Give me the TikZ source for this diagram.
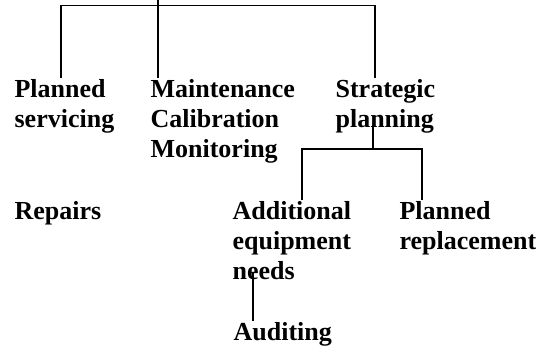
\documentclass[tikz,border=0pt]{standalone}
\usepackage{fontspec}
\setmainfont{Liberation Serif}

\tikzset{
  item/.style={anchor=base west,inner sep=0pt,align=left,
    font=\bfseries\fontsize{26}{30}\selectfont},
}

\begin{document}
\begin{tikzpicture}[x=1pt,y=-1pt,line width=1.2pt]
\useasboundingbox (0,0) rectangle (542,349);
% first level (placed at the baseline of the last line)
\node[item] (plan)  at (14,127)  {Planned\\servicing};
\node[item] (maint) at (150,157) {Maintenance\\Calibration\\Monitoring};
\node[item] (strat) at (335,127) {Strategic\\planning};
% second level
\node[item] (rep)   at (14,219)  {Repairs};
\node[item] (addl)  at (232,279) {Additional\\equipment\\needs};
\node[item] (replc) at (399,249) {Planned\\replacement};
\node[item] (audit) at (233,340) {Auditing};
% top bar
\coordinate (root) at (158,0);
\coordinate (barL) at (61,5.5);
\coordinate (barR) at (375,5.5);
\draw (root) -- (root |- maint.north);
\draw (barL |- plan.north) -- (barL) -- (barR) -- (barR |- strat.north);
% strategic planning branch
\coordinate (subtop) at (373,125);
\coordinate (subL) at (302,149);
\coordinate (subR) at (422,149);
\draw (subtop) -- (subtop |- subL);
\draw (subL |- addl.north) -- (subL) -- (subR) -- (subR |- replc.north);
% needs -> auditing
\coordinate (nd) at (253,273);
\draw (nd) -- (nd |- audit.north);
\end{tikzpicture}
\end{document}
